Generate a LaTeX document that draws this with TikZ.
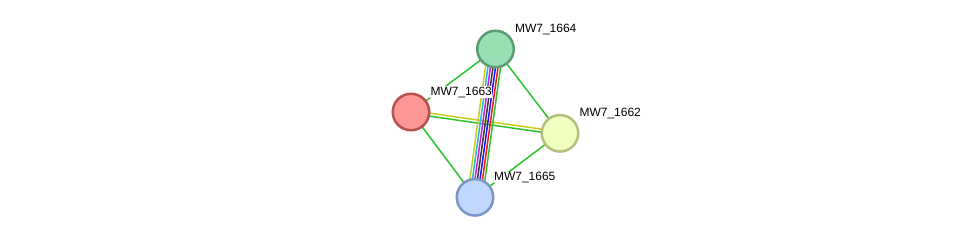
\documentclass[tikz,border=0pt]{standalone}
\usepackage{fontspec}
\setmainfont{Liberation Sans}
\usetikzlibrary{calc,backgrounds}
\definecolor{cgreen}{RGB}{45,195,45}
\definecolor{cyel}{RGB}{200,205,30}
\definecolor{ccyan}{RGB}{30,185,225}
\definecolor{cmag}{RGB}{205,30,205}
\definecolor{cblk}{RGB}{55,55,55}
\definecolor{cblue}{RGB}{20,20,250}
\definecolor{cred}{RGB}{250,20,20}
\definecolor{fA}{RGB}{153,224,180}\definecolor{bA}{RGB}{92,155,115}
\definecolor{fB}{RGB}{255,150,150}\definecolor{bB}{RGB}{185,80,80}
\definecolor{fC}{RGB}{240,255,192}\definecolor{bC}{RGB}{180,190,125}
\definecolor{fD}{RGB}{192,216,255}\definecolor{bD}{RGB}{125,150,195}
\tikzset{
  prot/.style={circle, minimum size=36.5bp, inner sep=0pt, line width=2.5bp},
  lbl/.style={anchor=base west, inner xsep=0.3bp, inner ysep=0.5bp, fill=white, font=\fontsize{12bp}{14bp}\selectfont},
  edge/.style={line width=1.5bp}
}
\begin{document}
\begin{tikzpicture}[x=1bp,y=-1bp]
\useasboundingbox (0,0) rectangle (976,243);
\node[prot, fill=fA, draw=bA] (n1664) at (495.5,49) {};
\node[prot, fill=fB, draw=bB] (n1663) at (411,112) {};
\node[prot, fill=fC, draw=bC] (n1662) at (560,133.3) {};
\node[prot, fill=fD, draw=bD] (n1665) at (475,197.3) {};
\begin{scope}[on background layer]
\fill[white] (0,0) rectangle (976,243);
\draw[edge,cgreen] (n1663.center) -- (n1664.center);
\draw[edge,cgreen] (n1664.center) -- (n1662.center);
\draw[edge,cgreen] (n1663.center) -- (n1665.center);
\draw[edge,cgreen] (n1662.center) -- (n1665.center);
\foreach \o/\c in {1.5/cyel,-1.5/cgreen}
  \draw[edge,\c] ($(n1663.center)!\o bp!90:(n1662.center)$) -- ($(n1662.center)!\o bp!-90:(n1663.center)$);
\foreach \o/\c in {-7.5/cyel,-5/ccyan,-2.5/cmag,0/cblk,2.5/cblue,5/cred,7.5/cgreen}
  \draw[edge,\c] ($(n1664.center)!\o bp!90:(n1665.center)$) -- ($(n1665.center)!\o bp!-90:(n1664.center)$);
\end{scope}
\node[lbl] (l1664) at ($(n1664.center)+(19,-16.8)$) {MW7\_1664};
\node[lbl] (l1663) at ($(n1663.center)+(19,-16.8)$) {MW7\_1663};
\node[lbl] (l1662) at ($(n1662.center)+(19,-16.8)$) {MW7\_1662};
\node[lbl] (l1665) at ($(n1665.center)+(18.5,-16.8)$) {MW7\_1665};
\end{tikzpicture}
\end{document}
